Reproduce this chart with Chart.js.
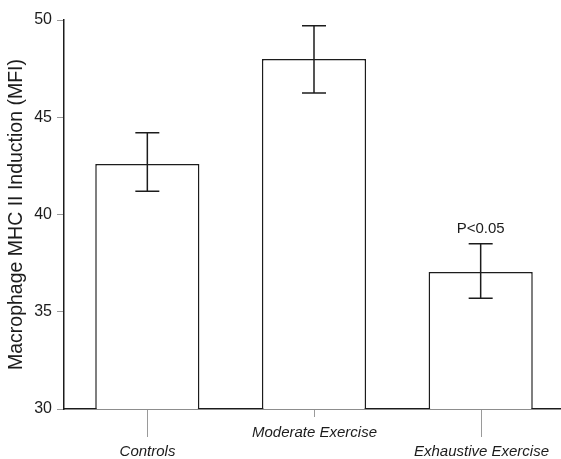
<!DOCTYPE html>
<html>
<head>
<meta charset="utf-8">
<script src="https://cdn.jsdelivr.net/npm/chart.js@4.4.1/dist/chart.umd.min.js"></script>
<style>
  html, body { margin: 0; padding: 0; background: #fff; }
  #wrap { width: 561px; height: 459px; overflow: hidden; position: relative; }
  canvas { display: block; }
</style>
</head>
<body>
<div id="wrap"><canvas id="c" width="564" height="459"></canvas></div>
<script>
// Group labels and measured means with error limits (MFI)
const categories = ['Controls', 'Moderate Exercise', 'Exhaustive Exercise'];
const meanMFI = [42.6, 48.0, 37.05];
const errLow = [41.2, 46.25, 35.7];
const errHigh = [44.2, 49.7, 38.5];
const significance = ['', '', 'P<0.05'];
const yTicks = [30, 35, 40, 45, 50];
const labelRow = [1, 0, 1]; // 0 = upper row, 1 = lower (staggered) row

const ink = '#1c1c1c';
const FONT = '"Liberation Sans", Arial, sans-serif';

const errorBars = {
  id: 'errorBars',
  afterDatasetsDraw(chart) {
    const ctx = chart.ctx;
    const y = chart.scales.y;
    const meta = chart.getDatasetMeta(0);
    ctx.save();
    ctx.strokeStyle = ink;
    ctx.lineWidth = 1.5;
    meta.data.forEach((bar, i) => {
      const x = bar.x;
      const top = y.getPixelForValue(errHigh[i]);
      const bot = y.getPixelForValue(errLow[i]);
      ctx.beginPath();
      ctx.moveTo(x, top); ctx.lineTo(x, bot);
      ctx.moveTo(x - 12, top); ctx.lineTo(x + 12, top);
      ctx.moveTo(x - 12, bot); ctx.lineTo(x + 12, bot);
      ctx.stroke();
      if (significance[i]) {
        ctx.fillStyle = ink;
        ctx.font = '15px ' + FONT;
        ctx.textAlign = 'center';
        ctx.textBaseline = 'middle';
        ctx.fillText(significance[i], x, top - 15);
      }
    });
    ctx.restore();
  }
};

const staggeredLabels = {
  id: 'staggeredLabels',
  afterDraw(chart) {
    const ctx = chart.ctx;
    const xs = chart.scales.x;
    const base = chart.chartArea.bottom;
    ctx.save();
    categories.forEach((lab, i) => {
      const x = Math.round(xs.getPixelForValue(i)) + 0.5;
      const tickLen = labelRow[i] ? 28 : 8;
      ctx.strokeStyle = '#9a9a9a';
      ctx.lineWidth = 1;
      ctx.beginPath();
      ctx.moveTo(x, base + 1); ctx.lineTo(x, base + tickLen);
      ctx.stroke();
      ctx.fillStyle = ink;
      ctx.font = 'italic 15px ' + FONT;
      ctx.textAlign = 'center';
      ctx.textBaseline = 'middle';
      ctx.fillText(lab, x, labelRow[i] ? base + 43 : base + 24);
    });
    ctx.restore();
  }
};

new Chart(document.getElementById('c'), {
  type: 'bar',
  data: {
    labels: categories,
    datasets: [{
      data: meanMFI,
      backgroundColor: '#ffffff',
      borderColor: ink,
      borderWidth: 1.5,
      barPercentage: 0.625,
      categoryPercentage: 1.0
    }]
  },
  options: {
    responsive: false,
    animation: false,
    devicePixelRatio: 1,
    layout: { padding: { top: 20, right: 0, bottom: 42, left: 0 } },
    plugins: { legend: { display: false }, tooltip: { enabled: false } },
    scales: {
      x: {
        grid: { display: false },
        ticks: { display: false },
        border: { display: true, color: ink, width: 1.5 }
      },
      y: {
        min: 30, max: 50,
        afterFit(scale) { scale.width = 64; },
        afterBuildTicks(scale) { scale.ticks = yTicks.map(v => ({ value: v })); },
        grid: { drawOnChartArea: false, drawTicks: true, tickLength: 7, color: '#9a9a9a', lineWidth: 1 },
        border: { display: true, color: ink, width: 1.5 },
        ticks: { color: ink, font: { family: FONT, size: 16 }, padding: 5 },
        title: {
          display: true,
          text: 'Macrophage MHC II Induction (MFI)',
          color: ink,
          font: { family: FONT, size: 19.5 },
          padding: { top: 5, bottom: 0 }
        }
      }
    }
  },
  plugins: [errorBars, staggeredLabels]
});
</script>
</body>
</html>
